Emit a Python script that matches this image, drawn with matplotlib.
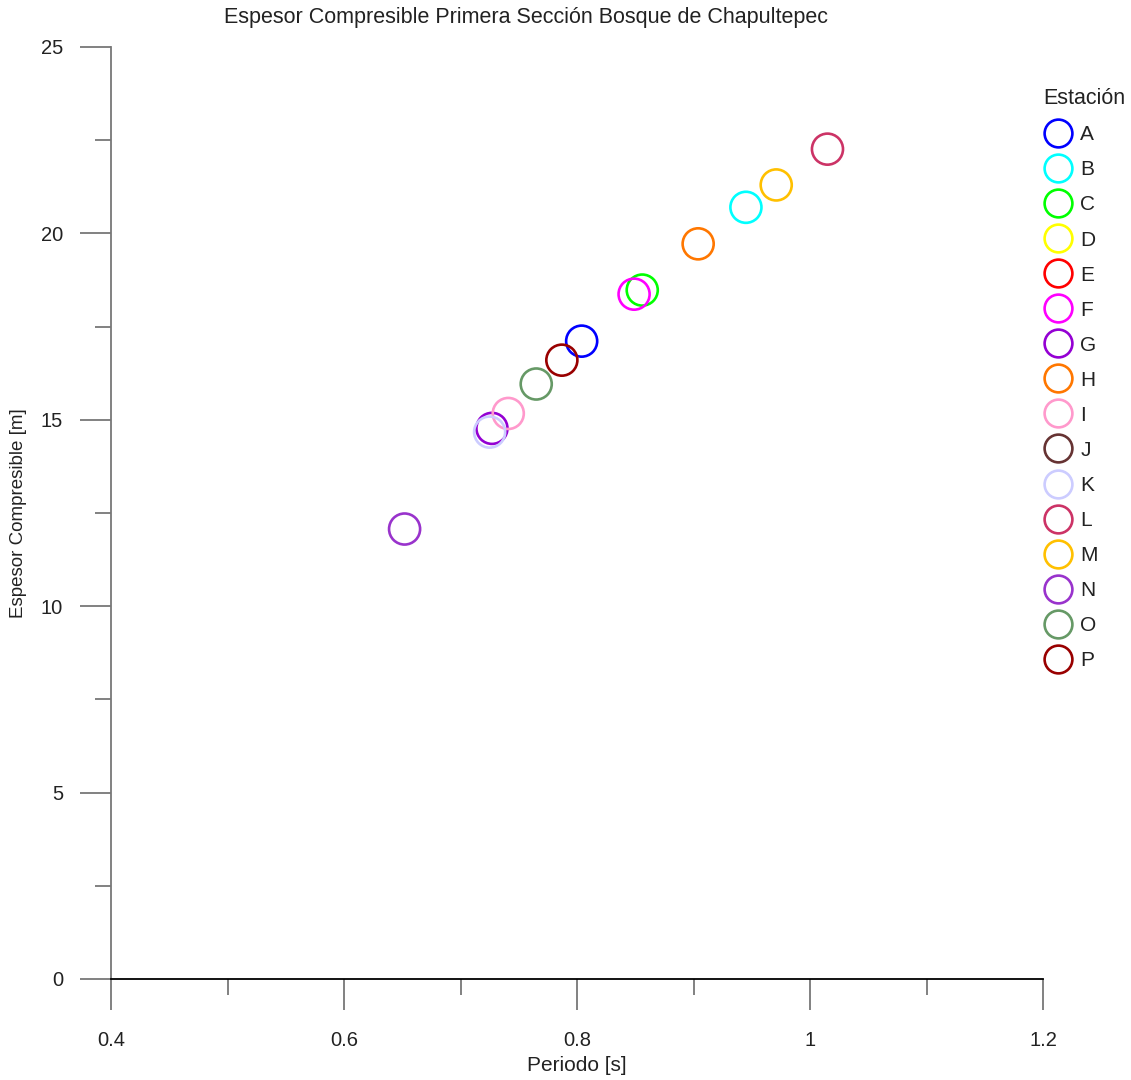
import numpy as np
import matplotlib
matplotlib.use("Agg")
import matplotlib.pyplot as plt
from matplotlib.lines import Line2D
from matplotlib.ticker import MultipleLocator, FuncFormatter

plt.rcParams['font.family'] = ['Liberation Sans', 'DejaVu Sans']

stations = ["A", "B", "C", "D", "E", "F", "G", "H", "I", "J", "K", "L", "M", "N", "O", "P"]
periodo = [0.804, 0.945, 0.856, np.nan, np.nan, 0.849, 0.727, 0.904, 0.741, np.nan,
           0.725, 1.015, 0.971, 0.652, 0.765, 0.787]
espesor = [17.11, 20.70, 18.48, np.nan, np.nan, 18.37, 14.77, 19.72, 15.17, np.nan,
           14.67, 22.26, 21.30, 12.07, 15.96, 16.60]
colors = ["#0000FF", "#00FFFF", "#00FF00", "#FFFF00", "#FF0000", "#FF00FF", "#9400D3",
          "#FF7700", "#FF99CC", "#663333", "#CCCCFF", "#CC3366", "#FFC000", "#9933CC",
          "#669966", "#990000"]

fig = plt.figure(figsize=(11.31, 10.8), dpi=100)
ax = fig.add_axes([111/1131, 101/1080, (1043-111)/1131, (979-47)/1080])

for s, x, y, c in zip(stations, periodo, espesor, colors):
    ax.scatter([x], [y], s=500, facecolors='none', edgecolors=c, linewidths=1.9, zorder=3)

ax.set_xlim(0.4, 1.2)
ax.set_ylim(0, 25)
for side in ['top', 'right']:
    ax.spines[side].set_visible(False)
ax.spines['left'].set_color('#777777')
ax.spines['left'].set_linewidth(1.3)
ax.spines['bottom'].set_color('black')
ax.spines['bottom'].set_linewidth(1.3)

ax.xaxis.set_major_locator(MultipleLocator(0.2))
ax.xaxis.set_minor_locator(MultipleLocator(0.1))
ax.yaxis.set_major_locator(MultipleLocator(5))
ax.yaxis.set_minor_locator(MultipleLocator(2.5))
ax.xaxis.set_major_formatter(FuncFormatter(lambda v, p: ('%g' % round(v, 2))))
ax.tick_params(which='major', direction='out', length=22.5, width=1.3, color='#777777',
               labelsize=14.5, labelcolor='#222222')
ax.tick_params(which='minor', direction='out', length=11.5, width=1.3, color='#777777')
ax.tick_params(axis='x', which='major', pad=15)
ax.tick_params(axis='y', which='major', pad=12)

ax.set_xlabel("Periodo [s]", fontsize=15, color='#222222', labelpad=4)
ax.set_ylabel("Espesor Compresible [m]", fontsize=13.5, color='#222222', labelpad=10)
fig.text((220 + 832) / 2 / 1131, 1 - 18/1080, "Espesor Compresible Primera Sección Bosque de Chapultepec",
         ha='center', va='center', fontsize=15.5, color='#222222')

handles = [Line2D([], [], linestyle='none', marker='o', markersize=20, markerfacecolor='none',
                  markeredgecolor=c, markeredgewidth=1.9) for c in colors]
leg = fig.legend(handles, stations, title="Estación", loc='upper left',
                 bbox_to_anchor=(1035/1131, 1 - 80/1080), frameon=False,
                 fontsize=15, title_fontsize=15.5, labelspacing=0.77,
                 handletextpad=0.38, handlelength=1.4, borderaxespad=0, borderpad=0.4)
leg._legend_box.align = "left"
for t in leg.get_texts():
    t.set_color('#222222')
leg.get_title().set_color('#222222')

fig.savefig("out.png", dpi=100)
